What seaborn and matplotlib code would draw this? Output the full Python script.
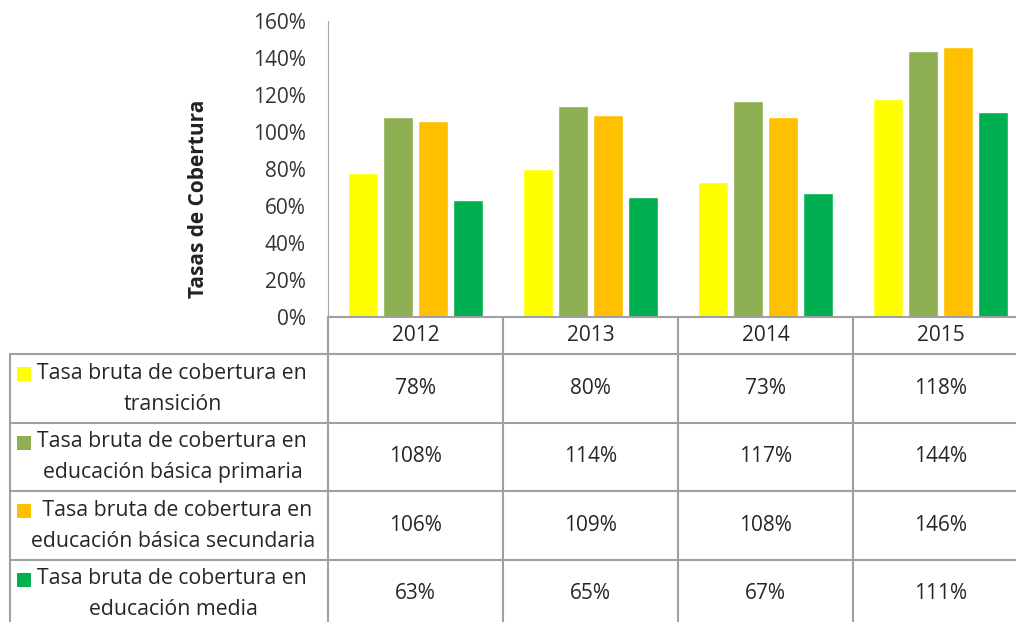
import pandas as pd
import matplotlib.pyplot as plt
import matplotlib.ticker as mtick
import seaborn as sns

# Data
years = ['2012', '2013', '2014', '2015']
series = ['Tasa bruta de cobertura en transición',
          'Tasa bruta de cobertura en educación básica primaria',
          'Tasa bruta de cobertura en educación básica secundaria',
          'Tasa bruta de cobertura en educación media']
series_lines = [('Tasa bruta de cobertura en', 'transición'),
                ('Tasa bruta de cobertura en', 'educación básica primaria'),
                (' Tasa bruta de cobertura en', 'educación básica secundaria'),
                ('Tasa bruta de cobertura en', 'educación media')]
transicion = [78, 80, 73, 118]
primaria = [108, 114, 117, 144]
secundaria = [106, 109, 108, 146]
media = [63, 65, 67, 111]
colors = ['#FFFF00', '#8FB052', '#FFC000', '#00B050']

values = [transicion, primaria, secundaria, media]
rows = []
for s, vals in zip(series, values):
    for y, v in zip(years, vals):
        rows.append({'year': y, 'serie': s, 'value': v / 100})
df = pd.DataFrame(rows)

sns.set_style('white')
plt.rcParams['font.family'] = ['Open Sans', 'DejaVu Sans']

W, H = 1016, 622
fig = plt.figure(figsize=(W / 100, H / 100), dpi=100)

# Bar chart area (pixel layout)
x0, x_axis_top, x_axis_bot = 328, 21, 317
col_w = 175
ax = fig.add_axes([x0 / W, 1 - x_axis_bot / H, 4 * col_w / W, (x_axis_bot - x_axis_top) / H])
sns.barplot(data=df, x='year', y='value', hue='serie', order=years, hue_order=series,
            palette=colors, width=0.8, gap=0.16, saturation=1, legend=False, ax=ax)
ax.set_ylim(0, 1.6)
ax.set_xlim(-0.5, 3.5)
ax.set_yticks([i * 0.2 for i in range(9)])
ax.yaxis.set_major_formatter(mtick.PercentFormatter(1.0, decimals=0))
ax.tick_params(axis='y', labelsize=15, colors='#333333', pad=16, length=0)
ax.set_xticks([])
ax.set_xlabel('')
ax.set_ylabel('Tasas de Cobertura', fontsize=15, fontweight='bold', color='#222222')
ax.yaxis.set_label_coords((198 - x0) / (4 * col_w), (x_axis_bot - 199) / (x_axis_bot - x_axis_top))
ax.yaxis.label.set_va('center')
for sp in ['top', 'right', 'bottom']:
    ax.spines[sp].set_visible(False)
ax.spines['left'].set_color('#A6A6A6')
ax.patch.set_alpha(0)

# Data table below the chart
tab = fig.add_axes([0, 0, 1, 1])
tab.set_xlim(0, W)
tab.set_ylim(H, 0)
tab.axis('off')
tab.patch.set_alpha(0)

line_c = '#A0A0A0'
left_x = 10
head_top, head_bot = 317, 354
row_h = 68.5
right_x = x0 + 4 * col_w
row_edges = [head_bot + i * row_h for i in range(5)]

tab.plot([x0, right_x], [head_top, head_top], color=line_c, lw=1.5)
for yy in row_edges:
    tab.plot([left_x, right_x], [yy, yy], color=line_c, lw=1.5)
tab.plot([left_x, left_x], [head_bot, row_edges[-1]], color=line_c, lw=1.5)
for i in range(5):
    xx = x0 + i * col_w
    tab.plot([xx, xx], [head_top, row_edges[-1]], color=line_c, lw=1.5)

txt_c = '#262626'
for i, y in enumerate(years):
    tab.text(x0 + (i + 0.5) * col_w, (head_top + head_bot) / 2, y,
             ha='center', va='center', fontsize=15, color=txt_c)

for r, (lines, vals) in enumerate(zip(series_lines, values)):
    cy = (row_edges[r] + row_edges[r + 1]) / 2
    tab.add_patch(plt.Rectangle((17, cy - 21), 14, 14, color=colors[r], lw=0))
    tab.text(37, cy - 15, lines[0], ha='left', va='center', fontsize=15.3, color=txt_c)
    tab.text((left_x + x0) / 2 + 4, cy + 16, lines[1], ha='center', va='center',
             fontsize=15.3, color=txt_c)
    for i, v in enumerate(vals):
        tab.text(x0 + (i + 0.5) * col_w, cy, f'{v}%', ha='center', va='center',
                 fontsize=15, color=txt_c)

fig.savefig('out.png', dpi=100)
